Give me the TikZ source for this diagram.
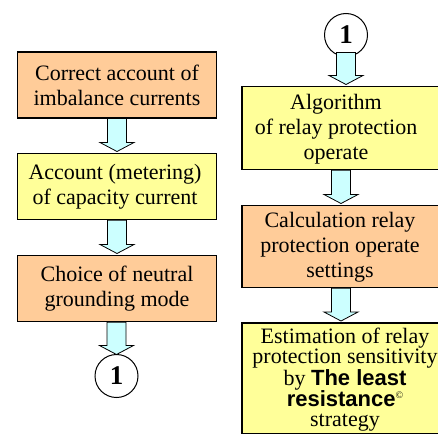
\documentclass[tikz,border=0pt]{standalone}
\usepackage{fontspec}
\setmainfont{Liberation Serif}
\newfontfamily\arialfont{Liberation Sans}
\definecolor{boxorange}{RGB}{255,204,153}
\definecolor{boxyellow}{RGB}{255,255,153}
\definecolor{arrowcyan}{RGB}{204,255,255}
\tikzset{
 flowbox/.style={draw=black, line width=1.5pt, rectangle, inner sep=0pt},
 leftbox/.style={flowbox, minimum width=199pt},
 rightbox/.style={flowbox, minimum width=198pt},
 orangebox/.style={fill=boxorange},
 yellowbox/.style={fill=boxyellow},
 boxtext/.style={align=center, inner sep=0pt, font={\fontsize{22}{25}\selectfont}},
 smalltext/.style={align=center, inner sep=0pt, font={\fontsize{22}{20}\selectfont}},
 numcircle/.style={draw=black, line width=1pt, fill=white, circle, minimum size=43pt, inner sep=0pt, font={\fontsize{27}{27}\selectfont\bfseries}},
 cyanarrow/.style={draw=black, line width=0.8pt, fill=arrowcyan},
}
\begin{document}
\begin{tikzpicture}[x=1pt,y=1pt]
\useasboundingbox (0,0) rectangle (438,-433);
% left column
\node[leftbox, orangebox, minimum height=65.5pt] (b1) at (117,-85) {};
\node[boxtext] (t1) at (b1.center) {Correct account of\\imbalance currents};
\node[leftbox, yellowbox, minimum height=66pt] (b2) at (117,-186.5) {};
\node[boxtext] (t2) at ([xshift=-2pt]b2.center) {Account (metering)\\of capacity current};
\node[leftbox, orangebox, minimum height=66pt] (b3) at (117,-288.5) {};
\node[boxtext] (t3) at (b3.center) {Choice of neutral\\grounding mode};
\node[numcircle] (c1) at (116.5,-376) {1};
% right column
\node[numcircle] (c2) at (346,-35) {1};
\node[rightbox, yellowbox, minimum height=83pt] (b4) at (341,-128) {};
\node[boxtext] (t4) at ([xshift=-5pt,yshift=-1pt]b4.center) {Algorithm\\of relay protection\\operate};
\node[rightbox, orangebox, minimum height=82pt] (b5) at (341,-246.5) {};
\node[boxtext] (t5) at ([xshift=-1pt,yshift=-1pt]b5.center) {Calculation relay\\protection operate\\settings};
\node[rightbox, yellowbox, minimum height=110.5pt] (b6) at (341,-378.25) {};
\node[smalltext] (t6) at ([xshift=4pt,yshift=-1.5pt]b6.center) {Estimation of relay\\protection sensitivity\\by {\arialfont\bfseries The least}\\{\arialfont\bfseries resistance}\raisebox{8pt}{\fontsize{10}{10}\selectfont ©}\\strategy};
% block arrows
\filldraw[cyanarrow] (107.5,-118.5) -- (107.5,-142.5) -- (100,-142.5) -- (117,-151.5) -- (134,-142.5) -- (126.5,-142.5) -- (126.5,-118.5) -- cycle;
\filldraw[cyanarrow] (107.5,-220.25) -- (107.5,-244.5) -- (100,-244.5) -- (117,-253.5) -- (134,-244.5) -- (126.5,-244.5) -- (126.5,-220.25) -- cycle;
\filldraw[cyanarrow] (107,-322.25) -- (107,-345.5) -- (99.5,-345.5) -- (116.5,-354.5) -- (133.5,-345.5) -- (126,-345.5) -- (126,-322.25) -- cycle;
\filldraw[cyanarrow] (336.5,-52.5) -- (336.5,-75.5) -- (329,-75.5) -- (346,-84.5) -- (363,-75.5) -- (355.5,-75.5) -- (355.5,-52.5) -- cycle;
\filldraw[cyanarrow] (331.5,-170.25) -- (331.5,-194.5) -- (324,-194.5) -- (341,-203.5) -- (358,-194.5) -- (350.5,-194.5) -- (350.5,-170.25) -- cycle;
\filldraw[cyanarrow] (331.5,-288.25) -- (331.5,-312) -- (324,-312) -- (341,-321) -- (358,-312) -- (350.5,-312) -- (350.5,-288.25) -- cycle;
\end{tikzpicture}
\end{document}
